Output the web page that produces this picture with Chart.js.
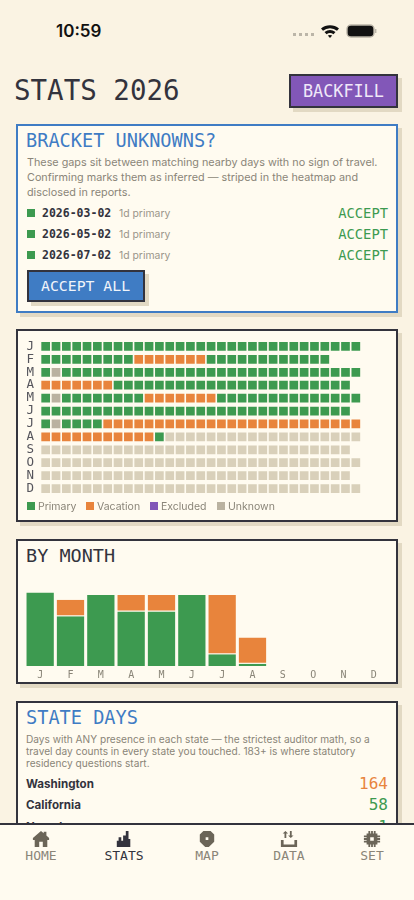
<!DOCTYPE html>
<html>
<head>
<meta charset="utf-8">
<script src="https://cdn.jsdelivr.net/npm/chart.js@4"></script>
<style>
  html, body { margin: 0; padding: 0; }
  body { width: 414px; height: 900px; position: relative; overflow: hidden; background: #faf3e3; font-family: Inter, sans-serif; color: #33333d; }
  .abs, .card, .btn, .mono { position: absolute; }
  .mono { font-family: "DejaVu Sans Mono", monospace; white-space: nowrap; line-height: 1; }
  .card { box-sizing: border-box; left: 16px; width: 382px; background: #fffbf0; border: 2px solid #33333d; box-shadow: 4px 4px 0 #e2d9c3; }
  .btn { box-sizing: border-box; border: 2px solid #33333d; box-shadow: 4px 4px 0 #e2d9c3; }
  .copy { position: absolute; color: #8a8578; white-space: nowrap; }
  .sq { position: absolute; width: 8px; height: 8px; background: #3d9a50; }
  .legend span { position: absolute; top: 501px; font-size: 10.5px; line-height: 11px; color: #8a8578; }
  .legend i { position: absolute; top: 502px; width: 8px; height: 8px; }
  nav { position: absolute; left: 0; top: 823px; width: 414px; height: 77px; box-sizing: border-box; background: #fffbf0; border-top: 2px solid #33333d; }
  nav svg { position: absolute; top: 5px; width: 18px; height: 18px; fill: #6b6558; }
  nav .mono { top: 24px; font-size: 13px; color: #8a8578; transform: translateX(-50%); }
</style>
</head>
<body>
<div class="abs" style="left:56px;top:21px;font-size:17px;font-weight:600;color:#111">10:59</div>
<svg class="abs" style="left:292px;top:20px" width="90" height="22" viewBox="0 0 90 22">
  <g fill="#bbb5a8"><rect x="1" y="13" width="3" height="3"/><rect x="7" y="13" width="3" height="3"/><rect x="13" y="13" width="3" height="3"/><rect x="19" y="13" width="3" height="3"/></g>
  <path d="M29 8.500a14 14 0 0 1 18 0l-2 2.200a11 11 0 0 0-14 0zM32.500 12a9 9 0 0 1 11 0l-2 2.200a6 6 0 0 0-7 0zM35.800 15.600a4 4 0 0 1 4.400 0L38 18z" fill="#111"/>
  <rect x="55" y="5" width="27" height="12" rx="4" fill="#111" stroke="#bbb5a8" stroke-width="1.4"/>
  <rect x="83" y="9" width="1.4" height="4" fill="#bbb5a8"/>
</svg>

<div class="mono" style="left:14px;top:77px;font-size:27.5px">STATS 2026</div>
<div class="btn" style="left:289px;top:74px;width:109px;height:34px;background:#8257b8"></div>
<div class="mono" style="left:303px;top:83px;font-size:16.8px;color:#f0e8f8">BACKFILL</div>

<div class="card" style="top:124px;height:189px;border-color:#3f7cc4"></div>
<div class="mono" style="left:26px;top:132px;font-size:18.6px;color:#3f7cc4">BRACKET UNKNOWNS?</div>
<div class="copy" style="left:27px;top:155px;font-size:10.8px;line-height:15px">These gaps sit between matching nearby days with no sign of travel.<br>Confirming marks them as inferred — striped in the heatmap and<br>disclosed in reports.</div>
<div id="gaps"></div>
<div class="btn" style="left:27px;top:270px;width:118px;height:32px;background:#3f7cc4"></div>
<div class="mono" style="left:41px;top:279px;font-size:14.8px;color:#f0f4fa">ACCEPT ALL</div>

<div class="card" style="top:329px;height:193px"></div>
<div class="abs" style="left:18px;top:325.5px;width:378px;height:183px"><canvas id="heat"></canvas></div>
<div class="legend" id="heatLegend"></div>

<div class="card" style="top:539px;height:145px"></div>
<div class="mono" style="left:26px;top:547px;font-size:18.5px">BY MONTH</div>
<div class="abs" style="left:18px;top:570px;width:378px;height:114px"><canvas id="bars"></canvas></div>

<div class="card" style="top:701px;height:200px"></div>
<div class="mono" style="left:26px;top:709px;font-size:18.6px;color:#3f7cc4">STATE DAYS</div>
<div class="copy" style="left:26px;top:733px;font-size:10.13px;line-height:12px">Days with ANY presence in each state — the strictest auditor math, so a<br>travel day counts in every state you touched. 183+ is where statutory<br>residency questions start.</div>
<div id="states"></div>

<nav id="nav"></nav>

<script>
const monthLabels = ['J', 'F', 'M', 'A', 'M', 'J', 'J', 'A', 'S', 'O', 'N', 'D'];

// one letter per day: P primary, V vacation, X excluded, U unknown, F not reached yet
const heatRows = [
    'PPPPPPPPPPPPPPPPPPPPPPPPPPPPPPP',
    'PPPPPPPPPVVVVVVVPPPPPPPPPPPP',
    'PUPPPPPPPPPPPPPPPPPPPPPPPPPPPPP',
    'VVVVVVVPPPPPPPPPPPPPPPPPPPPPPP',
    'PUPPPPPPPPVVVVVVVPPPPPPPPPPPPPP',
    'PPPPPPPPPPPPPPPPPPPPPPPPPPPPPP',
    'PUPPPPVVVVVVVVVVVVVVVVVVVVVVVVV',
    'VVVVVVVVVVVPFFFFFFFFFFFFFFFFFFF',
    'FFFFFFFFFFFFFFFFFFFFFFFFFFFFFF',
    'FFFFFFFFFFFFFFFFFFFFFFFFFFFFFFF',
    'FFFFFFFFFFFFFFFFFFFFFFFFFFFFFF',
    'FFFFFFFFFFFFFFFFFFFFFFFFFFFFFFF'
];

const primaryDays = [31, 21, 30, 23, 23, 30, 5, 1, 0, 0, 0, 0];
const vacationDays = [0, 7, 0, 7, 7, 0, 25, 11, 0, 0, 0, 0];

const legendLabels = ['Primary', 'Vacation', 'Excluded', 'Unknown'];

const gapDates = ['2026-03-02', '2026-05-02', '2026-07-02'];
const gapNotes = ['1d primary', '1d primary', '1d primary'];

const stateNames = ['Washington', 'California', 'Nevada'];
const stateCounts = [164, 58, 1];

const navLabels = ['HOME', 'STATS', 'MAP', 'DATA', 'SET'];

const GREEN = '#3d9a50';
const ORANGE = '#e8843c';
const PURPLE = '#8257b8';
const UNKNOWN = '#bab2a0';
const FUTURE = '#d9d0ba';
const MONO = '"DejaVu Sans Mono", monospace';

// html parts around the charts
gapDates.forEach((date, i) => {
    const top = 208 + i * 21;
    document.getElementById('gaps').innerHTML +=
        `<div class="sq" style="left:27px;top:${top + 1}px"></div>` +
        `<div class="mono" style="left:42px;top:${top}px;font-size:11.5px;font-weight:bold">${date}</div>` +
        `<div class="copy" style="left:119px;top:${top - 1}px;font-size:10.4px;line-height:13px;color:#9a958a">${gapNotes[i]}</div>` +
        `<div class="mono" style="right:26px;top:${top - 1}px;font-size:13.8px;color:${GREEN}">ACCEPT</div>`;
});

const legendX = [27, 86, 150, 217];
const legendColors = [GREEN, ORANGE, PURPLE, UNKNOWN];
legendLabels.forEach((label, i) => {
    document.getElementById('heatLegend').innerHTML +=
        `<i style="left:${legendX[i]}px;background:${legendColors[i]}"></i>` +
        `<span style="left:${legendX[i] + 11}px">${label}</span>`;
});

stateNames.forEach((name, i) => {
    const top = 777 + i * 21.3;
    const color = i == 0 ? ORANGE : GREEN;
    document.getElementById('states').innerHTML +=
        `<div class="abs" style="left:26px;top:${top}px;font-size:11.6px;line-height:14px;font-weight:700">${name}</div>` +
        `<div class="mono" style="right:26px;top:${top - 1}px;font-size:16px;color:${color}">${stateCounts[i]}</div>`;
});

const navIcons = [
    '<path d="M10 1l3 2.500V2h3v4l3 3v2h-2v8H12v-6H8v6H3v-8H1V9z"/>',
    '<path d="M12 1h3v9h2v9H2v-7h2V8h3v4h2V6h3z"/>',
    '<path fill-rule="evenodd" d="M6 1h8l4 4v8l-4 4-2 2H8l-2-2-4-4V5zM8.500 8v3h3V8z"/>',
    '<path d="M6 1l3 3H7v5H5V4H3zM11 1h2v5h2l-3 3-3-3h2zM1 11h3v5h12v-5h3v8H1z"/>',
    '<path d="M6 1h2v3h1V1h2v3h1V1h2v3h2v2h3v2h-3v1h3v2h-3v1h3v2h-3v2h-2v3h-2v-3h-1v3H9v-3H8v3H6v-3H4v-2H1v-2h3v-1H1V9h3V8H1V6h3V4h2zM8 8v4h4V8z"/>'
];
const navX = [41, 124, 207, 289, 372];
navLabels.forEach((label, i) => {
    const active = i == 1;
    document.getElementById('nav').innerHTML +=
        `<svg viewBox="0 0 20 20" style="left:${navX[i] - 9}px;${active ? 'fill:#33333d' : ''}">${navIcons[i]}</svg>` +
        `<div class="mono" style="left:${navX[i]}px;${active ? 'color:#33333d' : ''}">${label}</div>`;
});

// heatmap: every day is one square point on a month / day grid
function cellsFor(letter) {
    const cells = [];
    heatRows.forEach((row, m) => {
        row.split('').forEach((status, d) => {
            if (status == letter) cells.push({ x: d + 1, y: m });
        });
    });
    return cells;
}

function heatDataset(label, letter, color) {
    return {
        label: label,
        data: cellsFor(letter),
        backgroundColor: color,
        borderWidth: 0,
        pointStyle: 'rect',
        pointRadius: 6.15,
        pointHoverRadius: 6.15
    };
}

new Chart(document.getElementById('heat'), {
    type: 'scatter',
    data: {
        datasets: [
            heatDataset('Primary', 'P', GREEN),
            heatDataset('Vacation', 'V', ORANGE),
            heatDataset('Excluded', 'X', PURPLE),
            heatDataset('Unknown', 'U', UNKNOWN),
            heatDataset('Future', 'F', FUTURE)
        ]
    },
    options: {
        responsive: true,
        maintainAspectRatio: false,
        animation: false,
        layout: { autoPadding: false, padding: { top: 7.5, right: 35, bottom: 7.4 } },
        plugins: { legend: { display: false }, tooltip: { enabled: false } },
        scales: {
            x: { type: 'linear', bounds: 'data', min: 0.5, max: 31.5, display: false },
            y: {
                type: 'linear',
                bounds: 'data',
                reverse: true,
                min: -0.5,
                max: 11.5,
                afterFit: axis => { axis.width = 22.5; },
                afterBuildTicks: axis => { axis.ticks = monthLabels.map((m, i) => ({ value: i })); },
                grid: { display: false, drawTicks: false },
                border: { display: false },
                ticks: {
                    padding: 6.5,
                    autoSkip: false,
                    color: '#55555c',
                    font: { family: MONO, size: 12.5 },
                    callback: value => monthLabels[value]
                }
            }
        }
    }
});

new Chart(document.getElementById('bars'), {
    type: 'bar',
    data: {
        labels: monthLabels,
        datasets: [
            { label: 'Primary', data: primaryDays, backgroundColor: GREEN, borderWidth: { top: 0, left: 1, right: 1, bottom: 0 } },
            { label: 'Vacation', data: vacationDays, backgroundColor: ORANGE, borderWidth: { top: 0, left: 1, right: 1, bottom: 1 } }
        ]
    },
    options: {
        responsive: true,
        maintainAspectRatio: false,
        animation: false,
        layout: { padding: { left: 7, right: 7 } },
        plugins: { legend: { display: false }, tooltip: { enabled: false } },
        datasets: { bar: { categoryPercentage: 1, barPercentage: 0.965, borderColor: '#fffbf0', borderSkipped: false } },
        scales: {
            x: {
                stacked: true,
                grid: { display: false, drawTicks: false },
                border: { display: false },
                ticks: {
                    padding: 3,
                    maxRotation: 0,
                    autoSkip: false,
                    color: '#8a8578',
                    font: { family: MONO, size: 10 }
                }
            },
            y: { stacked: true, min: 0, max: 40.5, display: false }
        }
    }
});
</script>
</body>
</html>
